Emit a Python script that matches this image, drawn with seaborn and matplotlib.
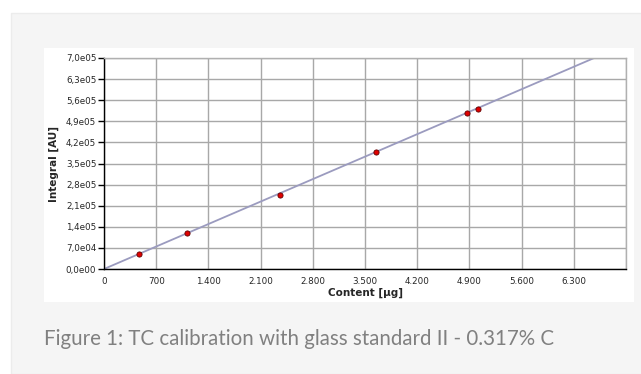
import numpy as np
import pandas as pd
import seaborn as sns
import matplotlib.pyplot as plt
from matplotlib.patches import Rectangle
from matplotlib.ticker import FuncFormatter

# calibration points
content = [470, 1115, 2365, 3641, 4864, 5011]
integral = [50000, 119000, 245000, 388000, 517000, 531000]

# calibration line end points
line_x = [0, 7000]
line_y = [0, 745500]

x_ticks = [0, 700, 1400, 2100, 2800, 3500, 4200, 4900, 5600, 6300, 7000]
y_ticks = [0, 70000, 140000, 210000, 280000, 350000, 420000, 490000, 560000, 630000, 700000]

caption = "Figure 1: TC calibration with glass standard II - 0.317% C"

sns.set_style("white")
plt.rcParams['font.family'] = ['DejaVu Sans']

fig = plt.figure(figsize=(6.41, 3.74), dpi=100)
fig.patch.set_facecolor('white')

# page background boxes
fig.patches.append(Rectangle((11/641, 0), 1, 1 - 13/374, transform=fig.transFigure,
                             facecolor='#f5f5f5', edgecolor='#ececec', lw=1, zorder=-3))
fig.patches.append(Rectangle((44/641, 1 - 302/374), (634-44)/641, (302-48)/374,
                             transform=fig.transFigure, facecolor='white',
                             edgecolor='none', zorder=-2))

ax = fig.add_axes([104/641, 1 - 269/374, (626-104)/641, (269-58)/374])
ax.set_facecolor('white')

pts = pd.DataFrame({'content': content, 'integral': integral})
line = pd.DataFrame({'x': line_x, 'y': line_y})

sns.lineplot(data=line, x='x', y='y', ax=ax, color='#9b9bbf', lw=1.3, zorder=2)
sns.scatterplot(data=pts, x='content', y='integral', ax=ax, color='#e00000',
                edgecolor='#600000', linewidth=0.6, s=14, zorder=3)

ax.set_xlim(0, 7000)
ax.set_ylim(0, 700000)
ax.set_xticks(x_ticks)
ax.set_yticks(y_ticks)


def fmt_x(v, pos):
    if v >= 7000:
        return ''
    return f"{int(v):,}".replace(',', '.')


def fmt_y(v, pos):
    if v == 0:
        return '0,0e00'
    e = int(np.floor(np.log10(v)))
    m = v / 10**e
    return f"{m:.1f}".replace('.', ',') + f"e{e:02d}"


ax.xaxis.set_major_formatter(FuncFormatter(fmt_x))
ax.yaxis.set_major_formatter(FuncFormatter(fmt_y))

ax.grid(True, color='#a8a8a8', lw=1)
ax.set_axisbelow(True)
ax.tick_params(axis='y', direction='out', length=4, width=1, color='black',
               labelsize=6.3, pad=1.5, left=True)
ax.tick_params(axis='x', length=0, labelsize=6.3, pad=6)

for s in ['left', 'bottom']:
    ax.spines[s].set_color('black')
    ax.spines[s].set_linewidth(1)
for s in ['top', 'right']:
    ax.spines[s].set_color('#b0b0b0')
    ax.spines[s].set_linewidth(1)

ax.set_xlabel('Content [µg]', fontsize=7.5, fontweight='bold', labelpad=1)
ax.set_ylabel('Integral [AU]', fontsize=7.5, fontweight='bold', labelpad=5)

fig.text(44/641, 1 - 339/374, caption, fontsize=14.8, color='#808080',
         family=['Lato', 'DejaVu Sans'], va='center', ha='left')

fig.savefig('out.png', dpi=100)
